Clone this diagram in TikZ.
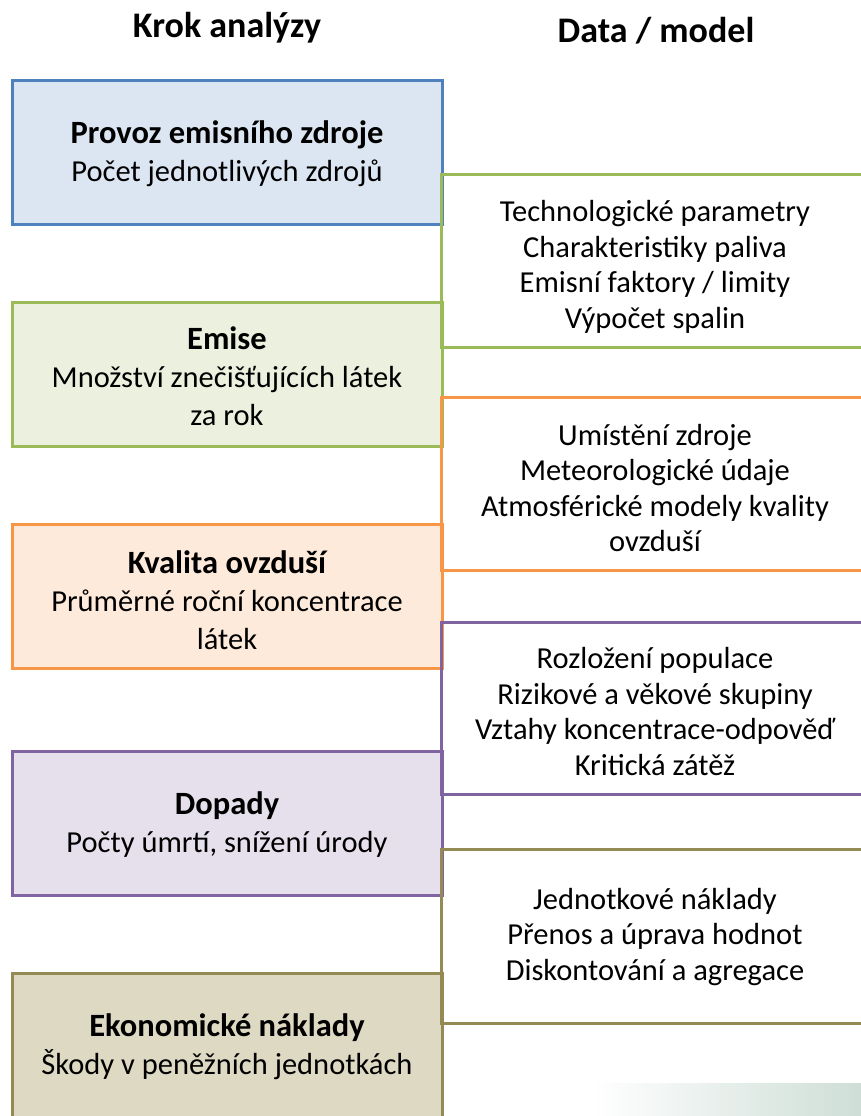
\documentclass[tikz,border=0pt]{standalone}
\usepackage{fontspec}
\setmainfont{Carlito}
\definecolor{bluS}{HTML}{4F81BD}\definecolor{bluF}{HTML}{DCE6F2}
\definecolor{grnS}{HTML}{9BBB59}\definecolor{grnF}{HTML}{EBF1DE}
\definecolor{orgS}{HTML}{F79646}\definecolor{orgF}{HTML}{FDEADA}
\definecolor{purS}{HTML}{8064A2}\definecolor{purF}{HTML}{E6E0EC}
\definecolor{olvS}{HTML}{948A54}\definecolor{olvF}{HTML}{DDD9C3}
\definecolor{grad}{HTML}{CEDED6}
\newcommand{\ttl}[1]{{\fontsize{32.5}{38}\selectfont\bfseries #1}}
\tikzset{
  stepbox/.style={draw, line width=3pt, minimum width=430pt, minimum height=144pt, inner sep=0pt},
  steptext/.style={inner sep=0pt, align=center, font=\fontsize{30.5}{38}\selectfont},
  databox/.style={minimum width=419pt, inner sep=0pt},
  datatext/.style={inner sep=0pt, align=center, font=\fontsize{30.5}{35.5}\selectfont},
  brk/.style={line width=3pt},
  hdr/.style={font=\fontsize{36}{40}\selectfont\bfseries, anchor=base}
}
\begin{document}
\begin{tikzpicture}[x=1pt,y=-1pt]
\useasboundingbox (0,0) rectangle (861,1116);
\clip (0,0) rectangle (861,1116);
\shade[left color=white, right color=grad] (592,1083) rectangle (861,1116);
\node[hdr] (h1) at (227,38) {Krok analýzy};
\node[hdr] (h2) at (656,43) {Data / model};

\node[stepbox, draw=bluS, fill=bluF] (s1) at (227,152) {};
\node[stepbox, draw=grnS, fill=grnF] (s2) at (227,374) {};
\node[stepbox, draw=orgS, fill=orgF] (s3) at (227,596) {};
\node[stepbox, draw=purS, fill=purF] (s4) at (227,823.5) {};
\node[stepbox, draw=olvS, fill=olvF] (s5) at (227,1045) {};

\node[steptext] (t1) at (227,154) {\ttl{Provoz emisního zdroje}\\Počet jednotlivých zdrojů};
\node[steptext] (t2) at (227,376) {\ttl{Emise}\\Množství znečišťujících látek\\za rok};
\node[steptext] (t3) at (227,600) {\ttl{Kvalita ovzduší}\\Průměrné roční koncentrace\\látek};
\node[steptext] (t4) at (227,824.5) {\ttl{Dopady}\\Počty úmrtí, snížení úrody};
\node[steptext] (t5) at (227,1046.5) {\ttl{Ekonomické náklady}\\Škody v peněžních jednotkách};

\node[databox, minimum height=172pt] (d1) at (651.5,261) {};
\node[databox, minimum height=172pt] (d2) at (651.5,484) {};
\node[databox, minimum height=171pt] (d3) at (651.5,708.5) {};
\node[databox, minimum height=173pt] (d4) at (651.5,936.5) {};

\node[datatext] (e1) at (655,267) {Technologické parametry\\Charakteristiky paliva\\Emisní faktory / limity\\Výpočet spalin};
\node[datatext] (e2) at (655,488) {Umístění zdroje\\Meteorologické údaje\\Atmosférické modely kvality\\ovzduší};
\node[datatext] (e3) at (655,711.5) {Rozložení populace\\Rizikové a věkové skupiny\\Vztahy koncentrace-odpověď\\Kritická zátěž};
\node[datatext] (e4) at (655,937) {Jednotkové náklady\\Přenos a úprava hodnot\\Diskontování a agregace};

\draw[brk, grnS] (d1.north east) -- (d1.north west) -- (d1.south west) -- (d1.south east);
\draw[brk, orgS] (d2.north east) -- (d2.north west) -- (d2.south west) -- (d2.south east);
\draw[brk, purS] (d3.north east) -- (d3.north west) -- (d3.south west) -- (d3.south east);
\draw[brk, olvS] (d4.north east) -- (d4.north west) -- (d4.south west) -- (d4.south east);
\end{tikzpicture}
\end{document}
